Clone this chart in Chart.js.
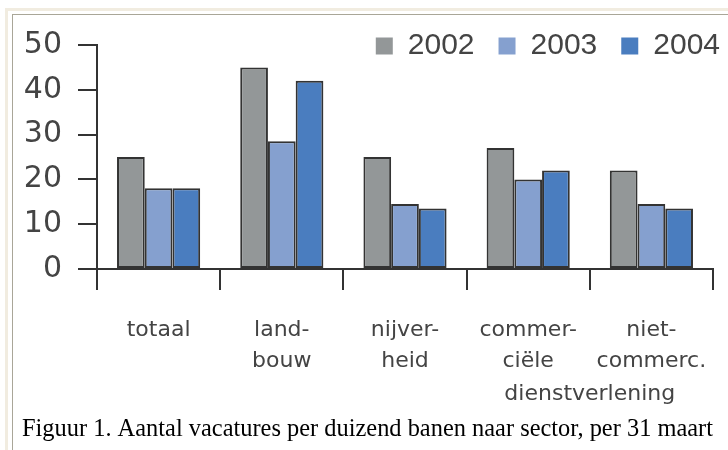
<!DOCTYPE html>
<html>
<head>
<meta charset="utf-8">
<script src="https://cdn.jsdelivr.net/npm/chart.js@4.4.1/dist/chart.umd.min.js"></script>
<style>
  html, body { margin: 0; padding: 0; background: #fff; }
  #wrap { position: relative; width: 728px; height: 450px; overflow: hidden; }
  .frame-outer { position: absolute; left: 5px; top: 8px; right: -10px; bottom: -10px;
    border-left: 3px solid #f1ece0; border-top: 3px solid #f1ece0; }
  .frame-inner { position: absolute; left: 12px; top: 14px; right: -10px; bottom: -10px;
    border-left: 1px solid #a9a698; border-top: 1px solid #a9a698; }
  canvas { position: absolute; left: 0; top: 0; }
</style>
</head>
<body>
<div id="wrap">
  <div class="frame-outer"></div>
  <div class="frame-inner"></div>
  <canvas id="chart" width="728" height="450"></canvas>
</div>
<script>
// data
const categories = [['totaal'], ['land-', 'bouw'], ['nijver-', 'heid'], ['commer-', 'ciële'], ['niet-', 'commerc.']];
const groupLabel = 'dienstverlening';   // spans the last two categories
const years = ['2002', '2003', '2004'];
const values2002 = [25, 45, 25, 27, 22];
const values2003 = [18, 28.5, 14.5, 20, 14.5];
const values2004 = [18, 42, 13.5, 22, 13.5];
const yTickLabels = [0, 10, 20, 30, 40, 50];

const colors = ['#939798', '#85a0cf', '#4a7dbf'];
const sansFont = 'Liberation Sans, Arial, sans-serif';
const axisFont = 'DejaVu Sans, Verdana, sans-serif';

const LEGEND_TRIM = 26;   // plot starts right under the legend row
const LEGEND_SHIFT = 31;  // legend row sits further right than the plot

const layoutPlugin = {
  id: 'layoutTweaks',
  beforeLayout(chart) {
    const lg = chart.legend;
    if (lg && !lg._trimmed) {
      const fit = lg.fit;
      lg.fit = function () { fit.call(this); this.height -= LEGEND_TRIM; };
      lg._trimmed = true;
    }
  },
  beforeDraw(chart) {
    const lg = chart.legend;
    if (lg) {
      lg.bottom = lg.top + lg.height + LEGEND_TRIM;
      lg.left += LEGEND_SHIFT;
      lg.right += LEGEND_SHIFT;
    }
  },
  afterDraw(chart) {
    // the shared label under the two service sectors
    const x = chart.scales.x;
    const ctx = chart.ctx;
    const cx = (x.getPixelForValue(3) + x.getPixelForValue(4)) / 2;
    ctx.save();
    ctx.font = '22px ' + axisFont;
    ctx.fillStyle = '#444';
    ctx.textAlign = 'center';
    ctx.textBaseline = 'middle';
    ctx.fillText(groupLabel, cx, x.top + 125);
    ctx.restore();
  }
};

const ctx = document.getElementById('chart');
const chart = new Chart(ctx, {
  type: 'bar',
  plugins: [layoutPlugin],
  data: {
    labels: categories,
    datasets: [
      { label: years[0], data: values2002, backgroundColor: colors[0] },
      { label: years[1], data: values2003, backgroundColor: colors[1] },
      { label: years[2], data: values2004, backgroundColor: colors[2] }
    ]
  },
  options: {
    responsive: false,
    animation: false,
    layout: { padding: { left: 22, right: 15, top: 7, bottom: 0 } },
    datasets: {
      bar: {
        borderColor: '#333',
        borderWidth: 2,
        borderSkipped: false,
        categoryPercentage: 0.675,
        barPercentage: 1.0
      }
    },
    scales: {
      x: {
        afterFit(scale) {
          scale.height = 146;
          scale.paddingLeft = 0;
          scale.paddingRight = 0;
        },
        grid: { offset: true, drawOnChartArea: false, tickLength: 21, color: '#333', lineWidth: 2 },
        border: { display: true, color: '#333', width: 2 },
        ticks: {
          autoSkip: false, maxRotation: 0, padding: 25, color: '#444',
          font: { family: axisFont, size: 22, lineHeight: '31px' }
        }
      },
      y: {
        min: 0,
        max: 50,
        afterFit(scale) { scale.width = 75; },
        grid: { drawOnChartArea: false, tickLength: 19, color: '#333', lineWidth: 2 },
        border: { display: true, color: '#333', width: 2 },
        ticks: {
          stepSize: 5,
          padding: 16,
          color: '#444',
          font: { family: axisFont, size: 30 },
          callback: (v) => yTickLabels.includes(v) ? String(v) : ''
        }
      }
    },
    plugins: {
      tooltip: { enabled: false },
      legend: {
        display: true,
        position: 'top',
        align: 'end',
        labels: {
          boxWidth: 17,
          boxHeight: 17,
          padding: 24,
          color: '#444',
          font: { family: sansFont, size: 30 },
          generateLabels(chart) {
            return Chart.defaults.plugins.legend.labels.generateLabels(chart)
              .map(l => Object.assign(l, { lineWidth: 0, strokeStyle: 'rgba(0,0,0,0)' }));
          }
        }
      },
      title: {
        display: true,
        position: 'bottom',
        align: 'start',
        text: 'Figuur 1. Aantal vacatures per duizend banen naar sector, per 31 maart',
        color: '#000',
        font: { family: 'Liberation Serif, Times New Roman, serif', size: 24.6, weight: 'normal', lineHeight: '29px' },
        padding: { top: 0, bottom: 6 }
      }
    }
  }
});
</script>
</body>
</html>
